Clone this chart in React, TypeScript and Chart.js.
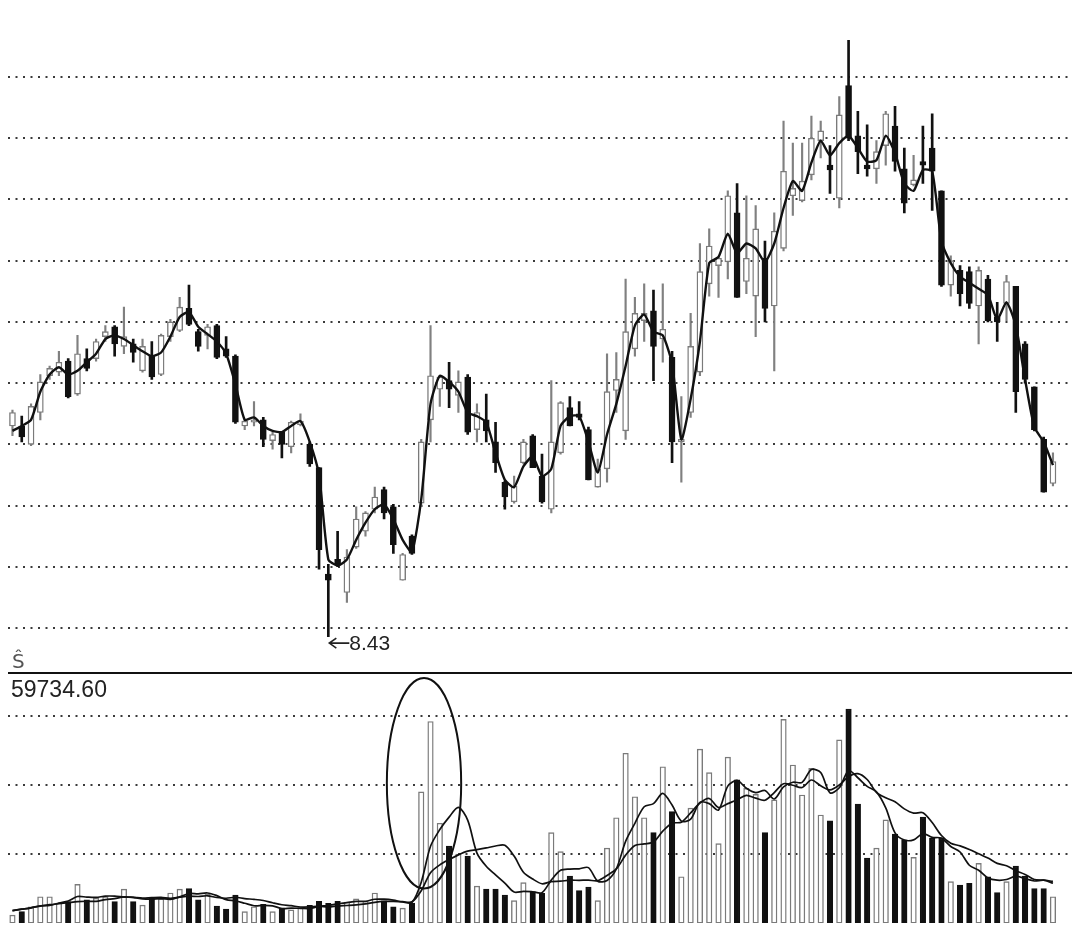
import React, { useEffect, useRef } from "react";
import { Chart, registerables } from "chart.js";

Chart.register(...registerables);

// trading sessions (index positions along the time axis)
const sessions = Array.from({ length: 113 }, (_, i) => i);

const opens = [
  10.15, 10.15, 10.0, 10.26, 10.56, 10.59, 10.68, 10.41, 10.7, 10.7,
  10.88, 10.96, 10.8, 10.82, 10.6, 10.72, 10.57, 10.88, 10.93, 11.11,
  10.92, 10.89, 10.97, 10.78, 10.72, 10.15, 10.18, 10.2, 10.03, 10.1,
  9.98, 10.16, 10.0, 9.81, 8.94, 9.06, 8.79, 9.16, 9.29, 9.47,
  9.63, 9.49, 8.89, 9.25, 9.52, 10.2, 10.45, 10.52, 10.4, 10.55,
  10.12, 10.2, 10.02, 9.69, 9.53, 9.85, 10.07, 9.74, 9.47, 9.93,
  10.3, 10.25, 10.12, 9.65, 9.8, 10.44, 10.11, 10.78, 11.01, 11.09,
  10.86, 10.71, 10.02, 10.26, 10.59, 11.31, 11.46, 11.49, 11.89, 11.33,
  11.21, 11.52, 11.13, 11.6, 12.03, 11.99, 12.2, 12.48, 12.28, 12.01,
  12.93, 12.52, 12.28, 12.25, 12.44, 12.6, 12.25, 12.12, 12.31, 12.42,
  12.07, 11.3, 11.42, 11.41, 11.13, 11.35, 11.04, 11.15, 11.29, 10.82,
  10.47, 10.04, 9.68,
];

const highs = [
  10.28, 10.23, 10.33, 10.57, 10.64, 10.76, 10.7, 10.89, 10.78, 10.86,
  10.97, 10.97, 11.12, 10.86, 10.86, 10.84, 10.9, 11.02, 11.2, 11.3,
  10.94, 10.98, 10.98, 10.88, 10.73, 10.2, 10.35, 10.22, 10.1, 10.1,
  10.19, 10.25, 10.02, 9.81, 9.02, 9.29, 9.14, 9.49, 9.45, 9.65,
  9.65, 9.51, 9.11, 9.26, 10.04, 10.97, 10.56, 10.67, 10.6, 10.57,
  10.33, 10.41, 10.18, 9.7, 9.74, 10.04, 10.08, 9.92, 10.52, 10.35,
  10.39, 10.35, 10.14, 9.88, 10.74, 10.75, 11.35, 11.2, 11.31, 11.26,
  11.31, 10.76, 10.39, 11.07, 11.64, 11.76, 11.53, 12.07, 12.13, 12.03,
  11.95, 11.66, 11.89, 12.64, 12.46, 12.46, 12.68, 12.64, 12.44, 12.84,
  13.3, 12.72, 12.61, 12.48, 12.72, 12.76, 12.42, 12.36, 12.6, 12.7,
  12.07, 11.54, 11.46, 11.45, 11.45, 11.38, 11.16, 11.38, 11.29, 10.84,
  10.47, 10.06, 9.93,
];

const lows = [
  10.07, 10.02, 9.99, 10.2, 10.53, 10.56, 10.38, 10.4, 10.6, 10.68,
  10.84, 10.72, 10.74, 10.67, 10.59, 10.53, 10.56, 10.84, 10.92, 10.97,
  10.76, 10.78, 10.7, 10.71, 10.17, 10.12, 10.15, 9.98, 9.96, 9.89,
  9.93, 10.15, 9.82, 8.98, 8.43, 9.0, 8.71, 9.15, 9.25, 9.44,
  9.39, 9.11, 8.89, 9.1, 9.49, 10.02, 10.31, 10.3, 10.26, 10.08,
  10.02, 10.02, 9.77, 9.47, 9.52, 9.84, 9.81, 9.52, 9.44, 9.92,
  10.15, 10.2, 9.71, 9.65, 9.69, 10.26, 10.04, 10.72, 10.84, 10.52,
  10.67, 9.85, 9.69, 10.22, 10.56, 11.21, 11.2, 11.35, 11.2, 11.23,
  10.88, 11.0, 10.6, 11.58, 11.87, 11.98, 12.16, 12.34, 12.05, 11.93,
  12.48, 12.21, 12.19, 12.13, 12.28, 12.23, 11.89, 12.11, 12.13, 11.91,
  11.29, 11.21, 11.13, 11.11, 10.82, 11.0, 10.84, 11.01, 10.26, 10.5,
  10.11, 9.61, 9.66,
];

const closes = [
  10.26, 10.06, 10.31, 10.51, 10.62, 10.67, 10.39, 10.74, 10.62, 10.84,
  10.92, 10.82, 10.88, 10.75, 10.8, 10.55, 10.89, 11.0, 11.12, 10.98,
  10.8, 10.96, 10.71, 10.72, 10.18, 10.19, 10.2, 10.04, 10.08, 10.0,
  10.18, 10.19, 9.84, 9.14, 8.89, 9.02, 9.08, 9.39, 9.44, 9.57,
  9.44, 9.18, 9.1, 9.11, 10.02, 10.56, 10.55, 10.45, 10.51, 10.1,
  10.26, 10.11, 9.85, 9.57, 9.66, 10.02, 9.81, 9.53, 10.02, 10.34,
  10.15, 10.22, 9.71, 9.8, 10.43, 10.53, 10.92, 11.07, 11.07, 10.8,
  10.94, 10.02, 10.04, 10.8, 11.41, 11.62, 11.52, 12.03, 11.2, 11.52,
  11.76, 11.11, 11.74, 12.23, 12.09, 12.15, 12.5, 12.56, 12.24, 12.69,
  12.5, 12.39, 12.25, 12.39, 12.7, 12.31, 11.97, 12.16, 12.28, 12.23,
  11.3, 11.5, 11.23, 11.15, 11.42, 11.01, 11.0, 11.33, 10.43, 10.53,
  10.12, 9.61, 9.86,
];

const priceMA = [
  10.11, 10.15, 10.2, 10.43, 10.57, 10.63, 10.57, 10.6, 10.67, 10.74,
  10.86, 10.89, 10.86, 10.81, 10.76, 10.72, 10.75, 10.88, 11.04, 11.08,
  10.96, 10.9, 10.84, 10.74, 10.49, 10.2, 10.22, 10.15, 10.11, 10.1,
  10.15, 10.19, 10.02, 9.75, 9.06, 9.01, 9.06, 9.22, 9.36, 9.47,
  9.51, 9.39, 9.22, 9.12, 9.55, 10.33, 10.56, 10.51, 10.43, 10.26,
  10.23, 10.18, 9.93, 9.71, 9.65, 9.82, 9.9, 9.74, 9.8, 10.15,
  10.23, 10.23, 10.02, 9.77, 10.08, 10.33, 10.64, 10.97, 11.06, 10.92,
  10.89, 10.66, 10.04, 10.37, 10.84, 11.48, 11.53, 11.72, 11.56, 11.64,
  11.6, 11.49, 11.64, 11.93, 12.15, 12.07, 12.3, 12.48, 12.36, 12.46,
  12.52, 12.42, 12.31, 12.32, 12.52, 12.38, 12.13, 12.07, 12.24, 12.23,
  11.66, 11.48, 11.37, 11.32, 11.27, 11.22, 11.02, 11.16, 10.97, 10.53,
  10.14, 10.02, 9.83,
];

const volumes = [
  2300, 3300, 4700, 7600, 7600, 5800, 6200, 11200, 6700, 7200,
  7600, 6200, 9800, 6200, 5200, 7200, 7000, 8700, 9800, 10000,
  6700, 8300, 4900, 4000, 8100, 3300, 4700, 5400, 3300, 4300,
  3800, 4500, 5100, 6300, 5700, 6300, 6100, 7000, 6300, 8700,
  6400, 4700, 4300, 5800, 38000, 58400, 28900, 22300, 20000, 19400,
  10700, 9800, 9800, 8100, 6500, 11700, 9100, 8600, 26200, 20700,
  13600, 9400, 10400, 6500, 21700, 30500, 49200, 36600, 30500, 26200,
  45300, 32300, 13400, 33300, 50400, 43600, 23000, 48100, 41500, 39000,
  37300, 26200, 35700, 59000, 45800, 37100, 44800, 31300, 29600, 53100,
  62000, 34500, 18800, 21700, 29900, 25800, 24100, 19000, 30700, 24600,
  24600, 12000, 11000, 11500, 17300, 13400, 8800, 12000, 16500, 13600,
  10000, 10000, 7600,
];

const volMA5 = [
  3600, 4000, 4400, 5000, 5100, 5800, 6380, 7680, 7500, 7420,
  7780, 7780, 7500, 7400, 7000, 6920, 7080, 6860, 7580, 8540,
  8440, 8700, 7940, 6780, 6400, 5720, 5000, 5100, 4960, 4200,
  4300, 4260, 4200, 4800, 5080, 5580, 5900, 6280, 6280, 6880,
  6900, 6620, 6080, 5980, 11840, 22240, 27080, 30680, 33520, 29800,
  20260, 16440, 13940, 11560, 8980, 9180, 9040, 8800, 12420, 15260,
  15640, 15700, 16060, 12120, 12320, 15700, 23660, 28900, 33700, 34600,
  37560, 34180, 29540, 30100, 34940, 34600, 32740, 39680, 41320, 39040,
  37780, 38420, 35940, 39440, 40800, 40760, 44480, 43600, 37720, 39180,
  44160, 42100, 39600, 38020, 33380, 26140, 24060, 24100, 25900, 24840,
  24600, 22180, 20580, 16740, 15280, 13040, 12400, 12600, 13600, 12860,
  12180, 12420, 11540,
];

const volMA10 = [
  3600, 4000, 4400, 4900, 5300, 5600, 5900, 6200, 6300, 6260,
  6790, 7080, 7590, 7450, 7210, 7350, 7430, 7180, 7490, 7770,
  7680, 7890, 7400, 7180, 7470, 7080, 6850, 6520, 5870, 5300,
  5010, 4630, 4650, 4880, 4640, 4940, 5080, 5240, 5540, 5980,
  6240, 6260, 6180, 6130, 9360, 14570, 16850, 18380, 19750, 20820,
  21250, 21760, 22310, 22540, 19390, 14720, 12740, 11370, 11990, 12120,
  12410, 12370, 12430, 12270, 13790, 15670, 19680, 22480, 22910, 23460,
  26630, 28920, 29220, 31900, 34770, 36080, 33460, 34610, 35710, 36990,
  36190, 35580, 37810, 40380, 39920, 39270, 41450, 39770, 38580, 39990,
  42460, 43290, 41600, 37870, 36280, 35150, 33080, 31850, 31960, 29110,
  25370, 23120, 22340, 21320, 20060, 18820, 17290, 16590, 15170, 14070,
  12610, 12410, 12070,
];

const priceGrid = [8.5, 9, 9.5, 10, 10.5, 11, 11.5, 12, 12.5, 13];
const volumeGrid = [20000, 40000, 60000];
const lowIndex = 34;
const lowValue = 8.43;
const lowLabel = "8.43";
const volumeLabel = "59734.60";
const priceSymbol = "Ŝ";
const highlight = { fromIndex: 40.3, toIndex: 48.3, top: 71000, bottom: 10000 };

const DARK = "#111111";
const GREY = "#7a7a7a";

function dottedLine(ctx: CanvasRenderingContext2D, x1: number, x2: number, y: number) {
  ctx.save();
  ctx.setLineDash([2, 5.5]);
  ctx.lineWidth = 2;
  ctx.strokeStyle = "#3a3a3a";
  ctx.beginPath();
  const yy = Math.round(y);
  ctx.moveTo(x1, yy);
  ctx.lineTo(x2, yy);
  ctx.stroke();
  ctx.restore();
}

export default function App() {
  const priceRef = useRef<HTMLCanvasElement>(null);
  const volRef = useRef<HTMLCanvasElement>(null);

  useEffect(() => {
    const up = sessions.map((i) => closes[i] >= opens[i]);
    const xScale: any = { type: "linear", min: -0.48, max: 114.05, display: false, offset: false };

    const priceGridPlugin = {
      id: "priceGrid",
      beforeDatasetsDraw(chart: any) {
        const { ctx, chartArea, scales } = chart;
        priceGrid.forEach((v) => dottedLine(ctx, chartArea.left, chartArea.right, scales.y.getPixelForValue(v)));
      },
      afterDraw(chart: any) {
        const { ctx, scales } = chart;
        const x = scales.x.getPixelForValue(lowIndex);
        const y = scales.y.getPixelForValue(lowValue) + 6.5;
        ctx.save();
        ctx.strokeStyle = "#222";
        ctx.lineWidth = 1.6;
        const tip = x + 1;
        ctx.beginPath();
        ctx.moveTo(tip, y);
        ctx.lineTo(tip + 20, y);
        ctx.moveTo(tip + 7, y - 5);
        ctx.lineTo(tip, y);
        ctx.lineTo(tip + 7, y + 5);
        ctx.stroke();
        ctx.fillStyle = "#222";
        ctx.font = '21px "Liberation Sans", Arial, sans-serif';
        ctx.textBaseline = "middle";
        ctx.textAlign = "left";
        ctx.fillText(lowLabel, tip + 20, y + 1);
        ctx.fillStyle = "#555";
        ctx.font = '20px "DejaVu Sans", sans-serif';
        ctx.textBaseline = "alphabetic";
        ctx.fillText(priceSymbol, 12, 668);
        ctx.restore();
      },
    };

    const pc = new Chart(priceRef.current as HTMLCanvasElement, {
      type: "bar",
      data: {
        datasets: [
          {
            type: "line",
            data: sessions.map((i) => ({ x: i, y: priceMA[i] })),
            borderColor: DARK,
            borderWidth: 2.4,
            pointRadius: 0,
            tension: 0.2,
            order: 0,
          } as any,
          {
            type: "bar",
            data: sessions.map((i) => ({ x: i, y: [opens[i], closes[i]] })),
            backgroundColor: sessions.map((i) => (up[i] ? "#ffffff" : DARK)),
            borderColor: sessions.map((i) => (up[i] ? GREY : DARK)),
            borderWidth: 1.4,
            borderSkipped: false,
            barThickness: 6,
            minBarLength: 2.5,
            grouped: false,
            order: 1,
          } as any,
          {
            type: "bar",
            data: sessions.filter((i) => !up[i]).map((i) => ({ x: i, y: [lows[i], highs[i]] })),
            backgroundColor: DARK,
            borderWidth: 0,
            barThickness: 2,
            grouped: false,
            order: 2,
          } as any,
          {
            type: "bar",
            data: sessions.filter((i) => up[i]).map((i) => ({ x: i, y: [lows[i], highs[i]] })),
            backgroundColor: "#808080",
            borderWidth: 0,
            barThickness: 1.5,
            grouped: false,
            order: 3,
          } as any,
        ],
      },
      options: {
        animation: false,
        responsive: false,
        maintainAspectRatio: false,
        layout: { padding: { left: 8, right: 8, top: 28, bottom: 19.5 } },
        plugins: { legend: { display: false }, tooltip: { enabled: false } },
        scales: {
          x: xScale,
          y: { min: 8.3, max: 13.4, display: false },
        },
      } as any,
      plugins: [priceGridPlugin],
    });

    const volPlugin = {
      id: "volDecor",
      beforeDatasetsDraw(chart: any) {
        const { ctx, chartArea, scales } = chart;
        volumeGrid.forEach((v) => dottedLine(ctx, chartArea.left, chartArea.right, scales.y.getPixelForValue(v)));
      },
      afterDraw(chart: any) {
        const { ctx, chartArea, scales } = chart;
        ctx.save();
        ctx.strokeStyle = DARK;
        ctx.lineWidth = 2;
        ctx.beginPath();
        ctx.moveTo(chartArea.left, 1);
        ctx.lineTo(chartArea.right, 1);
        ctx.stroke();
        ctx.fillStyle = "#222";
        ctx.font = '23px "Liberation Sans", Arial, sans-serif';
        ctx.textBaseline = "alphabetic";
        ctx.fillText(volumeLabel, 11, 25);
        const x1 = scales.x.getPixelForValue(highlight.fromIndex);
        const x2 = scales.x.getPixelForValue(highlight.toIndex);
        const y1 = scales.y.getPixelForValue(highlight.top);
        const y2 = scales.y.getPixelForValue(highlight.bottom);
        ctx.lineWidth = 2;
        ctx.beginPath();
        ctx.ellipse((x1 + x2) / 2, (y1 + y2) / 2, (x2 - x1) / 2, (y2 - y1) / 2, 0, 0, Math.PI * 2);
        ctx.stroke();
        ctx.restore();
      },
    };

    const vc = new Chart(volRef.current as HTMLCanvasElement, {
      type: "bar",
      data: {
        datasets: [
          {
            type: "line",
            data: sessions.map((i) => ({ x: i, y: volMA5[i] })),
            borderColor: DARK,
            borderWidth: 1.7,
            pointRadius: 0,
            tension: 0.3,
            order: 0,
          } as any,
          {
            type: "line",
            data: sessions.map((i) => ({ x: i, y: volMA10[i] })),
            borderColor: DARK,
            borderWidth: 1.7,
            pointRadius: 0,
            tension: 0.3,
            order: 0,
          } as any,
          {
            type: "bar",
            data: sessions.map((i) => ({ x: i, y: volumes[i] })),
            backgroundColor: sessions.map((i) => (up[i] ? "#ffffff" : DARK)),
            borderColor: sessions.map((i) => (up[i] ? GREY : DARK)),
            borderWidth: 1.4,
            borderSkipped: false,
            barThickness: 5.5,
            grouped: false,
            order: 1,
          } as any,
        ],
      },
      options: {
        animation: false,
        responsive: false,
        maintainAspectRatio: false,
        layout: { padding: { left: 8, right: 8, top: 23.3, bottom: 4 } },
        plugins: { legend: { display: false }, tooltip: { enabled: false } },
        scales: {
          x: xScale,
          y: { min: 0, max: 66000, display: false },
        },
      } as any,
      plugins: [volPlugin],
    });

    return () => {
      pc.destroy();
      vc.destroy();
    };
  }, []);

  return (
    <div style={{ position: "fixed", left: 0, top: 0, width: 1080, height: 927, background: "#fff" }}>
      <canvas
        ref={priceRef}
        width={1080}
        height={672}
        style={{ position: "absolute", left: 0, top: 0, width: 1080, height: 672 }}
      />
      <canvas
        ref={volRef}
        width={1080}
        height={255}
        style={{ position: "absolute", left: 0, top: 672, width: 1080, height: 255 }}
      />
    </div>
  );
}
